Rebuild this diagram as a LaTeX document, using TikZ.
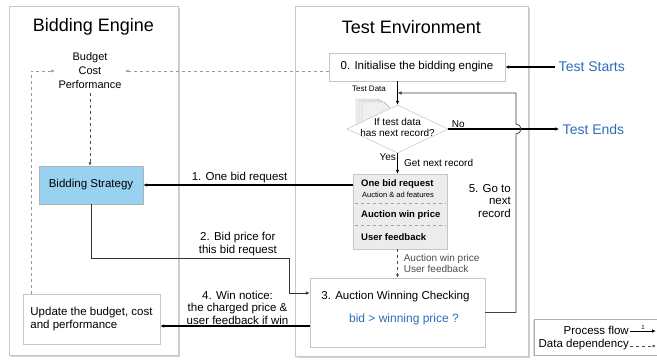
\documentclass[tikz,border=0pt]{standalone}
\usepackage{fontspec}
\setmainfont{Liberation Sans}
\usetikzlibrary{shapes.geometric, arrows.meta, positioning, calc, shadows}
\definecolor{flowblue}{RGB}{46,108,186}
\definecolor{strategyblue}{RGB}{152,210,240}
\definecolor{recordgray}{RGB}{236,236,236}
\definecolor{panelgray}{RGB}{200,200,200}
\newcommand{\txtsize}[2]{\fontsize{#1}{#2}\selectfont}

\begin{document}
\begin{tikzpicture}[
        x=1pt, y=-1pt,
        panel/.style={rectangle, draw=panelgray, fill=white, drop shadow={shadow xshift=1.5pt, shadow yshift=-1.5pt, opacity=0.35}},
        box/.style={rectangle, draw=gray!45, fill=white, drop shadow={shadow xshift=1.2pt, shadow yshift=-1.2pt, opacity=0.3}, align=center, font=\txtsize{11.5}{13}},
        flow/.style={line width=1.3pt, -{Latex[length=4pt, width=3.5pt]}},
        thinflow/.style={line width=0.8pt, black!80, -{Latex[length=4pt, width=3.5pt]}},
        data/.style={dashed, gray!80, line width=0.6pt, -{Latex[length=3.5pt, width=3pt]}},
        lbl/.style={font=\txtsize{11.5}{12.5}, align=center, inner sep=1pt},
        small/.style={font=\txtsize{10}{11}, inner sep=1pt},
        title/.style={font=\txtsize{18}{20}},
        endpoint/.style={font=\txtsize{14}{16}, text=flowblue},
        rowtext/.style={font=\bfseries\txtsize{9.5}{10}, anchor=west, inner sep=0pt}
    ]
        \useasboundingbox (0,0) rectangle (657,362);

        % the two panels
        \node[panel, minimum width=169pt, minimum height=349pt] (engine) at (93.5,180.5) {};
        \node[panel, minimum width=233pt, minimum height=350pt] (env) at (411.5,181) {};
        \node[title] (enginetitle) at (93.5,27) {Bidding Engine};
        \node[title] (envtitle) at (411.5,27) {Test Environment};

        % bidding engine side
        \node[font=\txtsize{11}{14}, align=center] (budget) at (90,71) {Budget\\Cost\\Performance};
        \node[box, fill=strategyblue, draw=gray!60, minimum width=104pt, minimum height=38pt] (strat) at (91,185) {Bidding Strategy};
        \node[box, align=left, minimum width=137pt, minimum height=50pt] (update) at (91.5,319) {Update the budget, cost\\and performance};

        % test environment side
        \node[box, minimum width=176pt, minimum height=28pt] (init) at (417,67) {0. Initialise the bidding engine};
        \node[endpoint, right=50pt of init] (start) {Test Starts};

        \foreach \dx/\dy in {0/0, 3/1.5, 6/3}
            \draw[gray!70, fill=gray!12] (356+\dx,99+\dy) -- ++(22,0) -- ++(6,6) -- ++(0,24) -- ++(-28,0) -- cycle;
        \node[font=\txtsize{8}{9}] (testdata) at (369,89) {Test Data};

        \node[diamond, draw=gray!55, fill=white, minimum width=101pt, minimum height=48pt, inner sep=0pt] (dia) at (397.5,129) {};
        \node[font=\txtsize{10}{11}, align=center] (diatxt) at (397.5,127.5) {If test data\\has next record?};
        \node[endpoint, right=111pt of dia] (ends) {Test Ends};

        \node[box, fill=recordgray, minimum width=94pt, minimum height=75pt] (rec) at (400,211.5) {};
        \node[rowtext] (recbid) at (361,184) {One bid request};
        \node[font=\txtsize{7.5}{8}, anchor=west, inner sep=0pt] (recfeat) at (362,195) {Auction \& ad features};
        \node[rowtext] (recprice) at (361,215) {Auction win price};
        \node[rowtext] (recfb) at (361,237) {User feedback};
        \draw[dashed, gray!70] ([xshift=2pt]rec.west |- 0,203) -- ([xshift=-2pt]rec.east |- 0,203);
        \draw[dashed, gray!70] ([xshift=2pt]rec.west |- 0,225) -- ([xshift=-2pt]rec.east |- 0,225);

        \node[box, minimum width=175pt, minimum height=69pt] (auc) at (397.5,312.5) {};
        \node[font=\txtsize{11.5}{13}] (auctitle) at (395.5,297) {3. Auction Winning Checking};
        \node[font=\txtsize{12}{13}, text=flowblue] (aucbid) at (404,319) {bid > winning price ?};

        % process flow
        \draw[flow] (start) -- (init);
        \draw[flow] (dia.north |- init.south) -- (dia.north);
        \draw[flow] (dia.east) -- node[small, above, pos=0.09] (nolbl) {No} (ends);
        \draw[flow] (dia.south) -- node[small, left, pos=0.2] (yeslbl) {Yes} node[small, right=5pt, pos=0.45] (nextlbl) {Get next record} (rec.north -| dia.south);
        \draw[flow] (rec.west |- strat.east) -- node[lbl, above, pos=0.54] (reqlbl) {1. One bid request} (strat.east);

        \coordinate (bidturn) at (289,258);
        \draw[thinflow] (strat.south) |- (bidturn) |- ([yshift=19.5pt]auc.west);
        \node[lbl, above left=1pt and 11pt of bidturn] (bidlbl) {2. Bid price for\\this bid request};

        \draw[flow] ([yshift=-13.5pt]auc.west) -- node[lbl, above, pos=0.483] (winlbl) {4. Win notice:\\the charged price \&\\user feedback if win} ([yshift=-13.5pt]auc.west -| update.east);

        \coordinate (loopturn) at (516,93);
        \draw[thinflow, black!75] (auc.east) -- (auc.east -| loopturn) -- ([yshift=-5pt]loopturn |- dia.east) arc[start angle=-90, end angle=90, radius=5pt] -- (loopturn) -- (loopturn -| dia.north);
        \node[lbl, align=right, anchor=east] (gonext) at (512,201) {5. Go to\\next\\record};

        % data dependency
        \draw[data, black!70] (auc.north |- rec.south) -- node[small, right=5pt, align=left] (auclbl) {Auction win price\\User feedback} (auc.north);
        \draw[data] (init.west |- budget.east) -- (budget.east);
        \coordinate (datacorner) at (31,71);
        \draw[data] (datacorner |- update.north) -- (datacorner) -- (budget.west);
        \draw[data, black!70] (budget.south) -- (budget.south |- strat.north);

        % legend
        \node[rectangle, draw=gray!60, fill=white, drop shadow={shadow xshift=-1.2pt, shadow yshift=-1.2pt, opacity=0.3}, minimum width=130pt, minimum height=36pt] (legend) at (599,337) {};
        \node[lbl, anchor=east] (pflow) at (630,330) {Process flow};
        \node[lbl, anchor=east] (ddep) at (630,345) {Data dependency};
        \coordinate (pflowend) at (656,331);
        \coordinate (ddepend) at (656,346);
        \draw[flow, line width=1pt] (pflow.east |- pflowend) -- node[above, font=\txtsize{6}{7}, inner sep=1pt] (pflowone) {1} (pflowend);
        \draw[data, black!70] (ddep.east |- ddepend) -- (ddepend);
    \end{tikzpicture}
\end{document}
